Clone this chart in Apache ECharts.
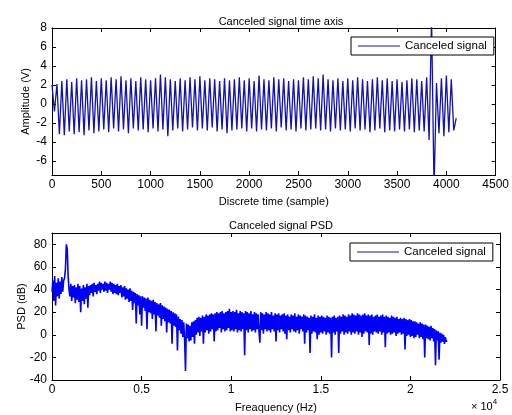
<!DOCTYPE html>
<html>
<head>
<meta charset="utf-8">
<script src="https://cdn.jsdelivr.net/npm/echarts@6/dist/echarts.min.js"></script>
<style>
  html, body { margin: 0; padding: 0; background: #fff; }
  #chart { width: 512px; height: 415px; }
</style>
</head>
<body>
<div id="chart"></div>
<script>
// time signal: one value every 25 samples (peaks and troughs)
var timeStep = 25;
var timeValues = [
  2.0, -0.8, 2.1, -3.2, 2.4, -3.3, 2.6, -2.9, 2.3, -3.2,
  2.7, -3.0, 2.5, -3.3, 2.6, -2.8, 2.8, -3.1, 2.4, -2.9,
  2.7, -2.7, 2.5, -3.0, 2.8, -2.6, 2.6, -2.9, 2.9, -2.7,
  2.5, -3.1, 2.7, -2.6, 2.4, -2.8, 2.8, -2.7, 2.6, -3.0,
  2.5, -2.6, 2.7, -2.9, 3.1, -2.7, 2.8, -3.4, 2.6, -2.8,
  2.4, -2.6, 2.7, -2.9, 2.5, -2.7, 2.8, -2.5, 2.6, -2.8,
  2.9, -2.6, 2.5, -2.8, 2.7, -2.5, 2.6, -2.9, 2.4, -2.7,
  2.7, -3.1, 2.5, -2.8, 2.6, -2.7, 2.8, -2.6, 2.5, -2.9,
  2.7, -2.6, 2.4, -2.9, 3.0, -2.7, 2.6, -2.8, 2.5, -2.6,
  2.8, -2.9, 2.6, -2.5, 2.7, -2.8, 2.4, -2.7, 2.6, -2.9,
  2.5, -2.6, 2.8, -2.8, 2.6, -2.7, 2.9, -2.6, 2.7, -2.8,
  3.1, -2.7, 2.6, -2.9, 2.5, -2.6, 2.7, -2.8, 2.4, -2.7,
  2.7, -2.9, 2.5, -2.6, 2.8, -2.8, 2.6, -2.7, 2.4, -3.0,
  2.6, -2.8, 2.8, -2.6, 2.5, -3.0, 2.7, -2.8, 2.4, -2.9,
  2.6, -2.7, 2.3, -2.9, 2.5, -2.7, 2.7, -3.0, 2.6, -2.8,
  2.4, -2.9, 2.8, -3.8, 9.0, -9.0, 2.2, -3.1, 2.7, -3.4,
  3.0, -3.0, 2.6, -2.8, -1.5
];

// PSD: one value every 50 Hz, dB
var freqStep = 50;
var psdValues = [
  38, 48, 30, 52, 26, 46, 34, 50, 32, 47, 36, 51, 38, 48, 50, 58, 80, 76, 52, 40,
  34, 45, 30, 43, 33, 44, 28, 42, 31, 45, 29, 43, 20, 41, 30, 44, 27, 42, 32, 45, 24,
  43, 35, 44, 37, 45, 34, 46, 38, 44, 36, 45, 39, 47, 37, 46, 40, 45, 38, 47, 39,
  46, 37, 45, 40, 47, 38, 46, 36, 45, 37,
  44, 36, 45, 35, 43, 37, 44, 33, 42, 34, 43, 31, 41, 32, 40, 29, 41, 30, 39, 22,
  38, 28, 37, 10, 36, 26, 35, 18, 34, 8,
  34, 24, 33, 21, 32, 5, 33, 20, 31, 19, 30, 14, 31, 18, 29, 3, 28, 17, 27, 15,
  28, 8, 26, 14, 25, 12, 24, 2, 23, 11, 22, 10, 21, -8, 20, 8, 19, 7, 18, -14,
  16, 4, 14, 1, 13, -2, 11, -4, -32, 10, -3, 9, -6, 8, -5, 11, -2, 12, -8, 13,
  0, 15, 2, 16, -1, 15, 3, 17, -8, 16, 2, 18, 4, 17, 1, 18, 3, 19, 5, 18,
  -6, 19, 3, 20, 4, 19, 6, 20, 2, 21, 5, 19, 3, 20, 4, 21, 6, 23, 3, 20,
  4, 21, 3, 20, 5, 22, 2, 19, 4, 21, 3, 20, 5, 19, -18, 21, 4, 20, 2, 19,
  5, 21, 3, 18, 4, 20, 2, 19, 5, 18, 3, -7, 20, 4, 19, 1, 18, 5, 20, 3,
  19, 4, 18, 2, 20, 5, 17, 3, 19, -6, 18, 4, 19, 2, 17, 5, 18, 3, 19, 1,
  17, -4, 18, 4, 16, 2, 18, 5, 17, 3, 19, 2, 16, 4, 18, 1, 17, 5, 16, 3,
  18, -8, 17, 2, 16, 4, 15, -16, 17, 1, 16, 3, 18, 2, 15, -4, 17, 0, 16, 2,
  17, 1, 16, 3, 15, 0, 17, 2, 16, 1, 15, -20, 16, 2, 17, 0, 15, 3, 16, -16,
  17, 1, 16, 3, 18, 0, 17, 2, 16, 1, 18, 3, 17, 0, 19, 2, 18, 1, 17, 3,
  19, 0, 18, 2, 17, -2, 18, 1, 19, 3, 17, 2, 18, -9, 17, 1, 18, 0, 16, 3,
  17, 2, 18, 1, 16, 3, 17, 0, 18, 2, 16, -11, 17, 1, 16, 2, 15, 0, 17, 1,
  16, 2, 15, -1, 16, 1, 14, 2, 15, 0, 14, 1, 15, -13, 14, -1, 13, 0, 14, -2,
  13, -1, 12, -3, 12, -2, 11, 0, 10, -3, 11, -2, 10, -4, 9, -20, 9, -3, 8, -4,
  7, -5, 8, -3, 6, -6, 5, -27, 4, -5, 3, -22, 2, -7, 1, -6, 0, -8, -2, -6, -5
];

var timeTicksY = [-6, -4, -2, 0, 2, 4, 6, 8];
var psdTicksY = [-40, -20, 0, 20, 40, 60, 80];

var timeColor = '#1212b4';
var psdColor = '#0000ff';
var tickFont = "'Liberation Sans', Arial, sans-serif";
var textFont = "'Liberation Sans', Arial, sans-serif";

var timeData = [];
for (var i = 0; i < timeValues.length; i++) {
  timeData.push([i * timeStep, timeValues[i]]);
}
var psdData = [];
for (var j = 0; j < psdValues.length; j++) {
  psdData.push([j * freqStep, psdValues[j]]);
}

function frameX(grid, pos, min, max, interval, labels, fmt) {
  return {
    type: 'value', gridIndex: grid, position: pos,
    min: min, max: max, interval: interval,
    axisLine: { show: true, onZero: false, lineStyle: { color: '#000', width: 1 } },
    axisTick: { show: true, inside: true, length: 4, lineStyle: { color: '#000' } },
    axisLabel: { show: labels, color: '#000', fontFamily: tickFont, fontSize: 12, margin: 4,
      formatter: fmt || function (v) { return String(v); } },
    splitLine: { show: false }
  };
}
function frameY(grid, pos, min, max, ticks, labels) {
  return {
    type: 'value', gridIndex: grid, position: pos,
    min: min, max: max,
    axisLine: { show: true, onZero: false, lineStyle: { color: '#000', width: 1 } },
    axisTick: { show: true, inside: true, length: 4, customValues: ticks, lineStyle: { color: '#000' } },
    axisLabel: { show: labels, color: '#000', fontFamily: tickFont, fontSize: 12, margin: 5,
      customValues: ticks, formatter: function (v) { return String(v); } },
    splitLine: { show: false }
  };
}

var chart = echarts.init(document.getElementById('chart'));

var nameStyle = { color: '#000', fontFamily: textFont, fontSize: 11 };

function setName(axis, name, gap) {
  axis.name = name;
  axis.nameLocation = 'middle';
  axis.nameGap = gap;
  axis.nameMoveOverlap = false;
  axis.nameTextStyle = nameStyle;
  return axis;
}

var xTop = setName(frameX(0, 'bottom', 0, 4500, 500, true), 'Discrete time (sample)', 21);
var xBot = setName(frameX(1, 'bottom', 0, 25000, 5000, true, function (v) { return String(v / 10000); }),
  'Freaquency (Hz)', 22);
var yTop = setName(frameY(0, 'left', -7.5, 8, timeTicksY, true), 'Amplitude (V)', 21);
var yBot = setName(frameY(1, 'left', -40, 90, psdTicksY, true), 'PSD (dB)', 25);

function legendBox(left, top) {
  return {
    data: ['Canceled signal'], left: left, top: top, padding: [3, 7, 3, 7],
    icon: 'rect', itemWidth: 42, itemHeight: 1,
    backgroundColor: '#fff', borderColor: '#000', borderWidth: 1, borderRadius: 0,
    selectedMode: false,
    textStyle: { color: '#000', fontFamily: textFont, fontSize: 11.5 }
  };
}

var option = {
  animation: false,
  backgroundColor: '#fff',
  title: [
    { text: 'Canceled signal time axis', left: 276, top: 11, textAlign: 'center',
      textStyle: { color: '#000', fontFamily: textFont, fontSize: 11, fontWeight: 'normal' } },
    { text: 'Canceled signal PSD', left: 276, top: 215, textAlign: 'center',
      textStyle: { color: '#000', fontFamily: textFont, fontSize: 11, fontWeight: 'normal' } }
  ],
  legend: [legendBox(351, 37), legendBox(350, 243)],
  grid: [
    { left: 52, right: 12, top: 28, height: 147 },
    { left: 52, right: 12, top: 233, height: 147 }
  ],
  xAxis: [
    xTop,
    frameX(0, 'top', 0, 4500, 500, false),
    xBot,
    frameX(1, 'top', 0, 25000, 5000, false)
  ],
  yAxis: [
    yTop,
    frameY(0, 'right', -7.5, 8, timeTicksY, false),
    yBot,
    frameY(1, 'right', -40, 90, psdTicksY, false)
  ],
  graphic: [
    { type: 'text', left: 471, top: 398,
      style: { text: '{a|× 10}{b|4}', fill: '#000',
        rich: { a: { fontFamily: textFont, fontSize: 11, verticalAlign: 'bottom' },
                b: { fontFamily: textFont, fontSize: 8, verticalAlign: 'top', padding: [0, 0, 6, 0] } } } }
  ],
  series: [
    { name: 'Canceled signal', type: 'line', xAxisIndex: 0, yAxisIndex: 0,
      data: timeData, symbol: 'none', lineStyle: { color: timeColor, width: 1.3 },
      itemStyle: { color: timeColor }, z: 1 },
    { name: 'Canceled signal', type: 'line', xAxisIndex: 2, yAxisIndex: 2,
      data: psdData, symbol: 'none', lineStyle: { color: psdColor, width: 1.6 },
      itemStyle: { color: psdColor }, z: 1 }
  ]
};

chart.setOption(option);
</script>
</body>
</html>
